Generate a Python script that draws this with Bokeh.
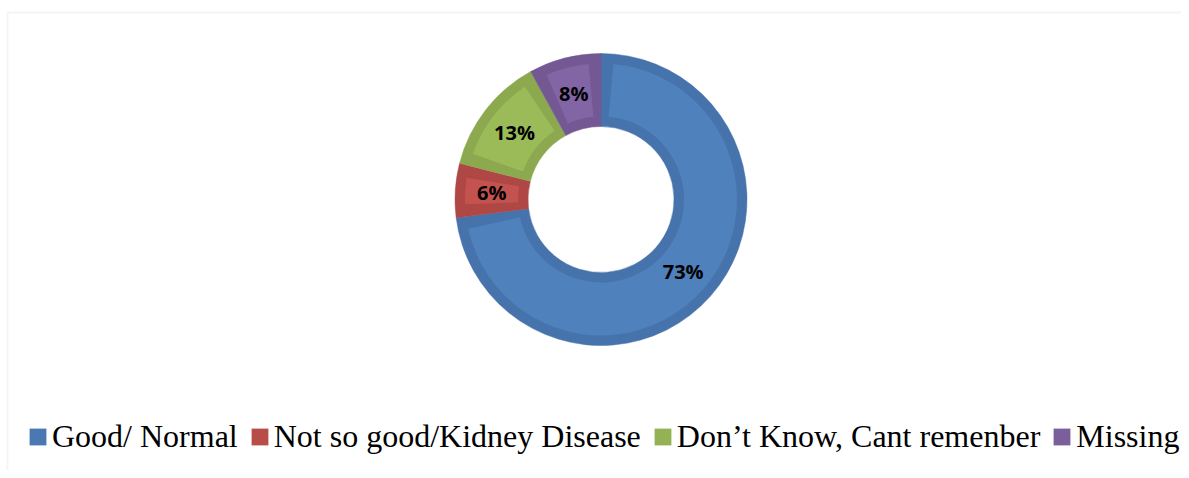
import numpy as np
from bokeh.plotting import figure
from bokeh.models import ColumnDataSource, Range1d, Legend, LegendItem, BoxAnnotation
from bokeh.core.properties import value
from bokeh.embed import file_html
from bokeh.resources import INLINE

# ---- data ----
categories = ["Good/ Normal", "Not so good/Kidney Disease", "Don\u2019t Know, Cant remenber", "Missing"]
percents = [73, 6, 13, 8]
labels = ["73%", "6%", "13%", "8%"]

# ---- styles ----
dark_colors = ["#4673AB", "#AF4845", "#8CA94F", "#735893"]
light_colors = ["#4F81BD", "#C4524F", "#9BBB59", "#8265A5"]
legend_colors = ["#4A78B2", "#B84C49", "#93B254", "#7B5E9C"]

W, H = 1181, 470
p = figure(width=W, height=H, output_backend="svg", toolbar_location=None,
           x_range=Range1d(0, W), y_range=Range1d(478 - H, 478),
           min_border=0, outline_line_color=None, background_fill_color="white")
p.axis.visible = False
p.grid.visible = False

# chart border (light gray, running off the right and bottom)
p.add_layout(BoxAnnotation(left=7, right=1400, top=466, bottom=-50,
                           fill_alpha=0, line_color="#D9D9D9", line_width=2))

cx, cy = 600.5, 279.0
r_in, r_out = 73.0, 146.0
band = 10.0

vals = np.array(percents, dtype=float)
frac = vals / vals.sum()
cum_after = np.cumsum(frac)
cum_before = cum_after - frac
start = np.pi / 2 - 2 * np.pi * cum_before
end = np.pi / 2 - 2 * np.pi * cum_after
r_mid = (r_in + r_out) / 2
d_ang = band / r_mid

src = ColumnDataSource(dict(
    x=[cx] * len(vals), y=[cy] * len(vals),
    start=start, end=end,
    start_in=start - d_ang, end_in=end + d_ang,
    dark=dark_colors, light=light_colors,
    lx=cx + r_mid * np.cos((start + end) / 2),
    ly=cy + r_mid * np.sin((start + end) / 2),
    lab=labels,
))

p.annular_wedge(x="x", y="y", inner_radius=r_in, outer_radius=r_out,
                start_angle="start", end_angle="end", direction="clock",
                fill_color="dark", line_color="dark", line_width=0.5, source=src)
p.annular_wedge(x="x", y="y", inner_radius=r_in + band, outer_radius=r_out - band,
                start_angle="start_in", end_angle="end_in", direction="clock",
                fill_color="light", line_color=None, source=src)

p.text(x="lx", y="ly", text="lab", source=src, text_align="center", text_baseline="middle",
       text_font=value("Open Sans"), text_font_style="bold", text_font_size="20px",
       text_color="black")

# legend (one off-screen square per category so the legend swatch is drawn)
items = []
for cat, col in zip(categories, legend_colors):
    r = p.quad(left=[-200], right=[-190], top=[-200], bottom=[-210],
               fill_color=col, line_color=None)
    items.append(LegendItem(label=cat, renderers=[r]))

legend = Legend(items=items, orientation="horizontal", location=(27, 15),
                glyph_width=21, glyph_height=21, label_standoff=4, spacing=11,
                padding=0, margin=0, border_line_color=None, background_fill_alpha=0,
                label_text_font="Liberation Serif", label_text_font_size="32px",
                label_text_color="black")
p.add_layout(legend, "center")

open("out.html", "w").write(file_html(p, INLINE))
